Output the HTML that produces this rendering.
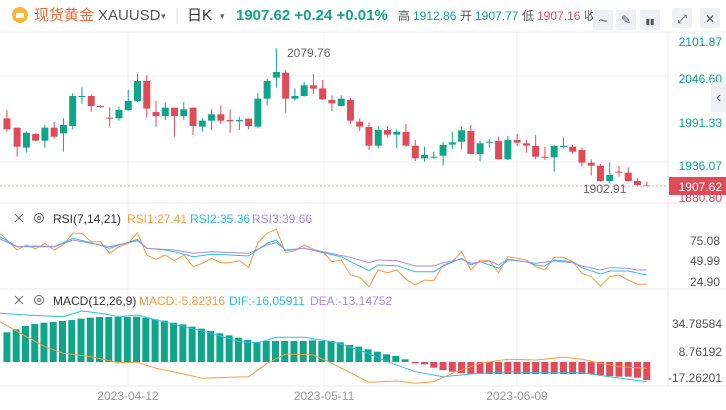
<!DOCTYPE html><html><head><meta charset="utf-8"><style>
body{margin:0;width:726px;height:410px;overflow:hidden;background:#fff;font-family:"Liberation Sans","Noto Sans CJK SC",sans-serif}
svg{position:absolute;left:0;top:0}
</style></head><body>
<svg id="s" width="726" height="410" xmlns="http://www.w3.org/2000/svg" font-family="Liberation Sans, Noto Sans CJK SC, sans-serif"></svg>
<script>
var S=document.getElementById('s'),h='';
function L(x1,y1,x2,y2,c,w,d){h+='<line x1="'+x1+'" y1="'+y1+'" x2="'+x2+'" y2="'+y2+'" stroke="'+c+'" stroke-width="'+(w||1)+'"'+(d?' stroke-dasharray="'+d+'"':'')+'/>';}
function R(x,y,w,hh,c){h+='<rect x="'+x+'" y="'+y+'" width="'+w+'" height="'+hh+'" fill="'+c+'"/>';}
function T(x,y,t,c,s,a){h+='<text x="'+x+'" y="'+y+'" fill="'+c+'" font-size="'+s+'"'+(a?' text-anchor="'+a+'"':'')+'>'+t+'</text>';}
var G='#0ea58a',Rd='#e04b59';
[128,324,517].forEach(function(x){L(x,32,x,386,'#f0f0f0');});
[76,162].forEach(function(y){L(0,y,668,y,'#f0f0f0');});
L(0,32,726,32,'#f0f0f0');L(0,203,726,203,'#e8e8e8');L(0,289,726,289,'#e8e8e8');L(0,386,726,386,'#e8e8e8');
L(668,32,668,386,'#eee');
var c=[[15,0,355,388,330,395],[37,0,383,440,383,470],[57,1,398,443,395,458],[77,0,402,422,400,424],[97,1,383,422,375,443],[117,0,383,410,366,416],[137,1,375,400,355,455],[157,1,288,378,280,388],[177,1,288,291,262,312],[197,0,288,318,285,335],[217,0,318,321,316,322],[237,0,353,356,322,380],[257,1,330,355,320,362],[277,1,303,330,270,333],[297,1,243,303,222,306],[317,0,243,326,226,353],[337,0,336,348,303,380],[357,1,323,348,308,360],[377,0,323,348,323,410],[397,1,328,348,306,360],[417,0,323,378,323,405],[437,1,362,380,355,395],[457,1,343,362,328,390],[477,0,343,362,316,372],[497,0,360,364,328,398],[517,1,360,364,350,390],[537,0,356,378,356,388],[557,1,296,380,280,385],[577,1,243,296,236,316],[597,1,216,233,145,263],[617,0,218,296,210,338],[637,1,288,296,265,302],[657,1,256,288,246,290],[677,0,256,266,222,282],[697,0,265,298,240,300],[717,0,300,310,286,333],[737,1,296,318,286,318],[757,0,300,362,293,372],[777,0,365,380,355,393],[797,0,381,437,368,450],[817,1,390,437,378,445],[837,0,390,404,378,410],[857,1,396,404,388,445],[877,0,396,437,372,440],[897,0,437,475,420,483],[917,1,465,475,440,485],[937,1,470,473,455,478],[957,1,435,467,425,497],[977,1,427,434,395,448],[997,1,391,425,378,448],[1017,0,393,462,375,462],[1037,1,430,462,422,483],[1057,1,425,428,418,443],[1077,0,423,478,410,478],[1097,1,420,478,408,480],[1117,0,420,428,402,438],[1137,0,430,437,420,458],[1157,0,438,470,405,478],[1177,0,470,473,440,480],[1197,1,438,472,436,515],[1217,1,438,441,413,445],[1237,0,440,455,435,462],[1257,0,450,488,442,500],[1277,0,488,497,478,527],[1297,0,497,543,492,545],[1317,1,525,543,487,548],[1337,0,515,518,498,530],[1357,0,518,543,502,545],[1377,0,543,555,535,558],[1397,0,556,558,545,558]];
c.forEach(function(k){var x=k[0]/2.16,col=k[1]?G:Rd;L(x,k[4]/3,x,k[5]/3,col,1);R(x-3.5,k[2]/3,7,Math.max(1,(k[3]-k[2])/3),col);});
L(0,186,668,186,'#f2a0a8',1,'2,2');
T(287,57,"2079.76",'#666',12);L(276,49,276,53,'#999',1,'1,1');
T(583,193,"1902.91",'#666',12);
[["2101.87",46],["2046.60",83],["1991.33",127],["1936.07",170]].forEach(function(a){T(722,a[1],a[0],G,12,'end');});
T(722,202,"1880.80",Rd,12,'end');
R(669,177,57,18,Rd);T(722,191,"1907.62",'#fff',12,'end');
R(711,82,15,30,'#eef0f3');T(716,102,"‹",'#666',16);
function P(pts,col,dy,w){var s=pts.map(function(p){return (p[0]/2.16).toFixed(1)+','+(p[1]/3+dy).toFixed(1);}).join(' ');h+='<polyline points="'+s+'" fill="none" stroke="'+col+'" stroke-width="'+(w||1)+'"/>';}
var O='#fa9c3e',C='#2cc0e0',Pu='#a98be8';
P([[0,100],[37,150],[57,135],[77,147],[97,130],[117,150],[137,135],[157,100],[177,100],[197,125],[217,125],[237,160],[257,140],[277,130],[297,98],[317,165],[337,178],[357,165],[377,182],[397,165],[417,200],[437,190],[457,175],[477,188],[497,188],[517,182],[537,202],[557,128],[577,100],[597,88],[617,158],[637,152],[657,135],[677,148],[697,155],[717,185],[737,180],[757,225],[777,232],[797,260],[817,210],[837,218],[857,210],[877,238],[897,255],[917,240],[937,242],[957,195],[977,185],[997,155],[1017,210],[1037,180],[1057,182],[1077,218],[1097,170],[1117,175],[1137,180],[1157,200],[1177,210],[1197,172],[1217,172],[1237,185],[1257,220],[1277,230],[1297,258],[1317,230],[1337,225],[1357,240],[1377,253],[1397,253]],O,200);
P([[0,110],[37,140],[77,138],[117,140],[157,115],[197,128],[237,145],[297,118],[317,145],[357,150],[377,155],[417,170],[457,163],[497,165],[537,168],[577,130],[597,120],[617,152],[657,145],[697,158],[737,170],[757,185],[797,212],[817,195],[857,197],[897,215],[937,215],[957,198],[997,175],[1017,195],[1037,185],[1077,205],[1097,180],[1137,185],[1157,195],[1177,198],[1197,180],[1237,185],[1257,203],[1297,222],[1317,213],[1357,213],[1397,225]],C,200);
P([[0,117],[37,140],[117,140],[157,120],[237,140],[297,122],[317,145],[377,150],[417,160],[457,155],[537,160],[577,135],[597,128],[617,150],[657,145],[697,155],[757,172],[797,188],[817,180],[857,182],[897,198],[937,198],[957,188],[997,178],[1017,190],[1057,183],[1077,195],[1097,178],[1157,190],[1197,183],[1237,188],[1257,198],[1297,210],[1317,203],[1357,205],[1377,210],[1397,210]],Pu,200);
[["75.08",245],["49.99",265],["24.90",286]].forEach(function(a){T(720,a[1],a[0],'#555',12,'end');});
var mb=[397,388,378,372,368,366,363,360,356,353,351,351,351,351,350,353,358,362,368,373,380,386,393,400,406,413,420,426,423,423,423,423,423,421,423,423,427,435,440,448,455,463,468,478];
var z=486/3+200;
mb.forEach(function(t,i){var x=(15+20*i)/2.16;R(x-3.5,t/3+200,7,z-(t/3+200),G);});
var rb=[490,493,503,510,515,520,522,522,522,522,522,522,522,522,522,522,522,522,522,522,525,528,530,530,533,540];
rb.forEach(function(b,i){var x=(897+20*i)/2.16;R(x-3.5,z,7,b/3+200-z,Rd);});
P([[0,340],[57,345],[137,350],[177,333],[217,340],[257,350],[297,345],[337,360],[397,380],[457,400],[517,425],[557,428],[597,412],[657,412],[717,425],[777,450],[837,485],[897,515],[957,530],[1017,522],[1097,515],[1177,518],[1257,518],[1317,530],[1397,545]],C,200);
P([[0,365],[57,410],[97,440],[137,460],[197,470],[257,488],[297,487],[337,505],[397,522],[437,535],[497,532],[537,530],[577,490],[617,462],[677,465],[717,490],[757,518],[797,547],[857,543],[897,550],[937,545],[977,520],[1037,490],[1097,478],[1157,480],[1217,472],[1257,478],[1297,490],[1337,500],[1397,505]],O,200);
[["34.78584",328],["8.76192",356],["-17.26201",382]].forEach(function(a){T(722,a[1],a[0],'#555',12,'end');});
[["2023-04-12",128],["2023-05-11",324],["2023-06-09",517]].forEach(function(a){T(a[1],400,a[0],'#999',12,'middle');});
function X(x,y){L(x-4,y-4,x+4,y+4,'#666');L(x-4,y+4,x+4,y-4,'#666');h+='<circle cx="'+(x+20)+'" cy="'+y+'" r="4.5" fill="none" stroke="#666"/><circle cx="'+(x+20)+'" cy="'+y+'" r="1.5" fill="none" stroke="#666"/>';}
X(19,218);T(53,223,"RSI(7,14,21)",'#333',12);T(127,223,"RSI1:27.41",O,12);T(190,223,"RSI2:35.36",C,12);T(252,223,"RSI3:39.66",Pu,12);
X(19,300);T(53,305,"MACD(12,26,9)",'#333',12);T(139,305,"MACD:-5.82316",O,12);T(229,305,"DIF:-16.05911",C,12);T(310,305,"DEA:-13.14752",Pu,12);
h+='<circle cx="20" cy="15" r="8" fill="#f5b73b"/>';R(16,13,8,5,'#fff');
T(34,20,"现货黄金",'#f06a3a',15);T(98,20,"XAUUSD",'#555',15);T(161,19,"▾",'#666',9);
L(177,8,177,24,'#ddd');T(187,20,"日K",'#333',15);T(220,19,"▾",'#666',9);
h+='<text x="236" y="20" font-size="15" font-weight="bold" fill="'+G+'">1907.62 +0.24 +0.01%</text>';
T(398,20,"高",'#555',12);T(413,20,"1912.86",G,12);T(460,20,"开",'#555',12);T(475,20,"1907.77",G,12);T(522,20,"低",'#555',12);T(537,20,"1907.16",Rd,12);T(584,20,"收",'#555',12);
[[593,27],[616,27],[640,27],[672,21],[700,21]].forEach(function(b){h+='<rect x="'+b[0]+'" y="'+(b[1]==27?10:8)+'" width="20" height="20" rx="2" fill="#eef0f3"/>';});
T(603,24,"⏦",'#555',12,'middle');T(626,24,"✎",'#555',12,'middle');T(650,24,"▮▮",'#555',8,'middle');T(682,23,"⤢",'#555',12,'middle');T(710,23,"✕",'#555',12,'middle');
S.innerHTML=h;
</script></body></html>
